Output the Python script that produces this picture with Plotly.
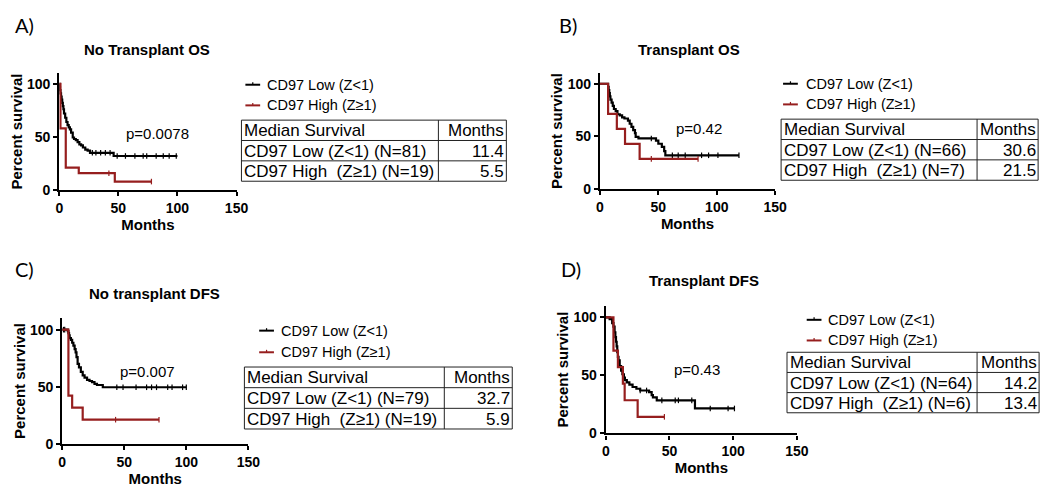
import plotly.graph_objects as go

W, H = 1050, 489
RED = "#961e1e"
FONT = "Liberation Sans, Arial, sans-serif"

groups = ["CD97 Low (Z<1)", "CD97 High (Z≥1)"]
table_head = ["Median Survival", "Months"]

# A) No Transplant OS
a_low_t = [0, 0.3, 0.6, 1, 1.5, 2, 2.5, 3, 3.5, 4, 5, 6, 7, 8, 9, 10, 11.4, 12.5, 14, 15.5, 17, 18.5, 20, 22, 24, 26, 46]
a_low_s = [100, 97, 94, 91, 88, 85, 82, 79, 76, 72, 68, 64, 61, 59, 57, 54, 49.4, 48, 47, 45, 43, 42, 40, 38, 37, 35, 32]
a_low_end = 100
a_low_cens = [28, 31, 35, 39, 43, 49, 56, 64, 71, 74, 82, 88, 93, 99]
a_high_t = [0, 1, 5.5, 16.5, 47]
a_high_s = [100, 57.9, 21.1, 15.8, 7.9]
a_high_end = 78
a_high_cens = [42, 78]
a_rows = ["CD97 Low (Z<1) (N=81)", "CD97 High \u00a0(Z≥1) (N=19)"]
a_months = ["11.4", "5.5"]

# B) Transplant OS
b_low_t = [0, 7, 7.5, 8, 8.5, 9, 10, 11, 12, 13.5, 15, 17, 19, 21, 24, 25.5, 27, 28.5, 30, 30.6, 33, 48, 50, 53, 55, 56]
b_low_s = [100, 97, 94, 91, 88, 85, 82, 79, 76, 74, 71, 70, 68, 67, 65, 62, 59, 56, 53, 49.5, 48, 46, 43, 40, 36, 32]
b_low_end = 119
b_low_cens = [44, 62, 67, 73, 87, 93, 101, 119]
b_high_t = [0, 7, 14.5, 21.5, 34]
b_high_s = [100, 71.4, 57.1, 42.9, 28.6]
b_high_end = 84
b_high_cens = [44, 84]
b_rows = ["CD97 Low (Z<1) (N=66)", "CD97 High \u00a0(Z≥1) (N=7)"]
b_months = ["30.6", "21.5"]

# C) No transplant DFS
c_low_t = [0, 4.5, 5, 5.5, 6, 7, 8, 9, 10, 10.8, 11.5, 12.4, 13.5, 15, 16.5, 18, 20, 22, 24, 26, 28, 32.7]
c_low_s = [100, 98.7, 97, 95, 92.5, 91, 88.5, 86, 83, 80, 76, 70, 67, 63, 60, 58, 56, 55, 54, 52.5, 51.5, 49.5]
c_low_end = 100
c_low_cens = [1, 2, 44, 49, 59.5, 68, 72, 76, 85, 88.5, 97, 100]
c_high_t = [0, 5, 8, 16.5]
c_high_s = [100, 42.1, 31.6, 21.1]
c_high_end = 78
c_high_cens = [43, 78]
c_rows = ["CD97 Low (Z<1) (N=79)", "CD97 High \u00a0(Z≥1) (N=19)"]
c_months = ["32.7", "5.9"]

# D) Transplant DFS
d_low_t = [0, 3, 5, 6, 6.9, 7.5, 8, 8.5, 9, 9.5, 10, 10.9, 12, 13, 14.2, 15, 16.5, 18.5, 21, 24, 27, 34, 36, 37, 40, 70]
d_low_s = [100, 98.4, 95, 92, 87, 83, 79, 75, 70, 66, 63, 58, 54, 51, 48, 46, 44, 42, 40, 38.5, 37, 35.5, 33, 31, 28.5, 21.5]
d_low_end = 101
d_low_cens = [27, 32, 44, 54.5, 57, 67.5, 82, 96, 101]
d_high_t = [0, 6, 9.5, 13.4, 14.8, 25]
d_high_s = [100, 71.4, 57.1, 42.9, 28.6, 14.3]
d_high_end = 46
d_high_cens = [46]
d_rows = ["CD97 Low (Z<1) (N=64)", "CD97 High \u00a0(Z≥1) (N=6)"]
d_months = ["14.2", "13.4"]


def surv_at(t, s, c):
    v = s[0]
    for ti, si in zip(t, s):
        if ti <= c:
            v = si
    return v


def px(x, y):
    return x / W, 1 - y / H


# panel layout (pixel positions)
panels = [
    dict(tag="A)", title="No Transplant OS", p="p=0.0078",
         low=(a_low_t, a_low_s, a_low_end, a_low_cens), high=(a_high_t, a_high_s, a_high_end, a_high_cens),
         rows=a_rows, months=a_months,
         xpx=(48, 228), ybot=185, yscale=1.08,
         tagpos=(13, 17), titlepos=(137, 42), ppos=(148, 128),
         leg=(237, 258, 78, 99), tab=(233, 433, 502, 114, 20.7)),
    dict(tag="B)", title="Transplant OS", p="p=0.42",
         low=(b_low_t, b_low_s, b_low_end, b_low_cens), high=(b_high_t, b_high_s, b_high_end, b_high_cens),
         rows=b_rows, months=b_months,
         xpx=(597, 775), ybot=184, yscale=1.07,
         tagpos=(565, 17), titlepos=(687, 42), ppos=(698, 123),
         leg=(783, 805, 77, 98), tab=(781, 980, 1042, 113, 20.7)),
    dict(tag="C)", title="No transplant DFS", p="p=0.007",
         low=(c_low_t, c_low_s, c_low_end, c_low_cens), high=(c_high_t, c_high_s, c_high_end, c_high_cens),
         rows=c_rows, months=c_months,
         xpx=(51, 240), ybot=443, yscale=1.16,
         tagpos=(13, 265), titlepos=(145, 290), ppos=(138, 370),
         leg=(251, 272, 328, 350), tab=(236, 439, 508, 365, 21)),
    dict(tag="D)", title="Transplant DFS", p="p=0.43",
         low=(d_low_t, d_low_s, d_low_end, d_low_cens), high=(d_high_t, d_high_s, d_high_end, d_high_cens),
         rows=d_rows, months=d_months,
         xpx=(603, 797), ybot=432.5, yscale=1.18,
         tagpos=(568, 265), titlepos=(703, 277), ppos=(696, 368),
         leg=(807, 828, 317, 338), tab=(787, 980, 1043, 350, 20.5)),
]

fig = go.Figure()
annotations = []
shapes = []
bold = dict(family=FONT, size=14, color="black", weight="bold")


def pline(x0, y0, x1, y1, color="black", width=1):
    a0, b0 = px(x0, y0)
    a1, b1 = px(x1, y1)
    shapes.append(dict(type="line", xref="paper", yref="paper", x0=a0, y0=b0, x1=a1, y1=b1,
                       line=dict(color=color, width=width)))


def ptext(x, y, text, font, xanchor="center"):
    ax, ay = px(x, y)
    annotations.append(dict(x=ax, y=ay, xref="paper", yref="paper", text=text, showarrow=False,
                            font=font, xanchor=xanchor, yanchor="middle", borderpad=0))


for i, pn in enumerate(panels, start=1):
    sfx = "" if i == 1 else str(i)
    xa, ya = "x" + sfx, "y" + sfx

    for (t, s, end, cens), col in [(pn["low"], "black"), (pn["high"], RED)]:
        fig.add_trace(go.Scatter(x=t + [end], y=s + [s[-1]], mode="lines",
                                 line=dict(color=col, width=2.2, shape="hv"),
                                 xaxis=xa, yaxis=ya, cliponaxis=False, hoverinfo="skip"))
        fig.add_trace(go.Scatter(x=cens, y=[surv_at(t, s, c) for c in cens], mode="markers",
                                 marker=dict(symbol="line-ns", size=4, line=dict(color=col, width=1.2)),
                                 xaxis=xa, yaxis=ya, cliponaxis=False, hoverinfo="skip"))

    x0, x1 = pn["xpx"]
    ytop = pn["ybot"] - 110 * pn["yscale"]
    common = dict(showline=True, linewidth=2.2, linecolor="black", ticks="outside", ticklen=4,
                  tickwidth=2, tickcolor="black", showgrid=False, zeroline=False, tickfont=bold)
    fig.update_layout(**{
        "xaxis" + sfx: dict(domain=[x0 / W, x1 / W], range=[0, 150], tickvals=[0, 50, 100, 150],
                            anchor=ya, title=dict(text="Months", font=dict(bold, size=15), standoff=3),
                            **common),
        "yaxis" + sfx: dict(domain=[1 - pn["ybot"] / H, 1 - ytop / H], range=[0, 110], tickvals=[0, 50, 100],
                            anchor=xa, title=dict(text="Percent survival", font=dict(bold, size=15), standoff=1),
                            **common),
    })

    ptext(*pn["tagpos"], pn["tag"], dict(family="Lato, Open Sans, sans-serif", size=20, color="black"))
    ptext(*pn["titlepos"], pn["title"], dict(bold, size=15))
    ptext(*pn["ppos"], pn["p"], dict(family=FONT, size=15, color="black"))

    # legend
    lx, tx, r1, r2 = pn["leg"]
    for name, col, ry in [(groups[0], "black", r1), (groups[1], RED, r2)]:
        pline(lx, ry, lx + 15, ry, col, 2)
        pline(lx + 7.5, ry, lx + 7.5, ry - 2.5, col, 1.2)
        ptext(tx, ry, name, dict(family=FONT, size=14.5, color="black"), "left")

    # median survival table
    tl, tdiv, tr, ttop, rh = pn["tab"]
    rows = [table_head] + [[a, b] for a, b in zip(pn["rows"], pn["months"])]
    tbot = ttop + rh * len(rows)
    for k in range(len(rows) + 1):
        pline(tl, ttop + k * rh, tr, ttop + k * rh, "#222", 1)
    for xv in (tl, tdiv, tr):
        pline(xv, ttop, xv, tbot, "#222", 1)
    tfont = dict(family=FONT, size=17, color="black")
    for k, (lab, mon) in enumerate(rows):
        yc = ttop + (k + 0.5) * rh + 0.5
        ptext(tl + 2, yc, lab, tfont, "left")
        ptext(tr - 1, yc, mon, tfont, "right")

fig.update_layout(width=W, height=H, margin=dict(l=0, r=0, t=0, b=0), showlegend=False,
                  paper_bgcolor="white", plot_bgcolor="white",
                  annotations=annotations, shapes=shapes)

fig.write_html("out.html")
